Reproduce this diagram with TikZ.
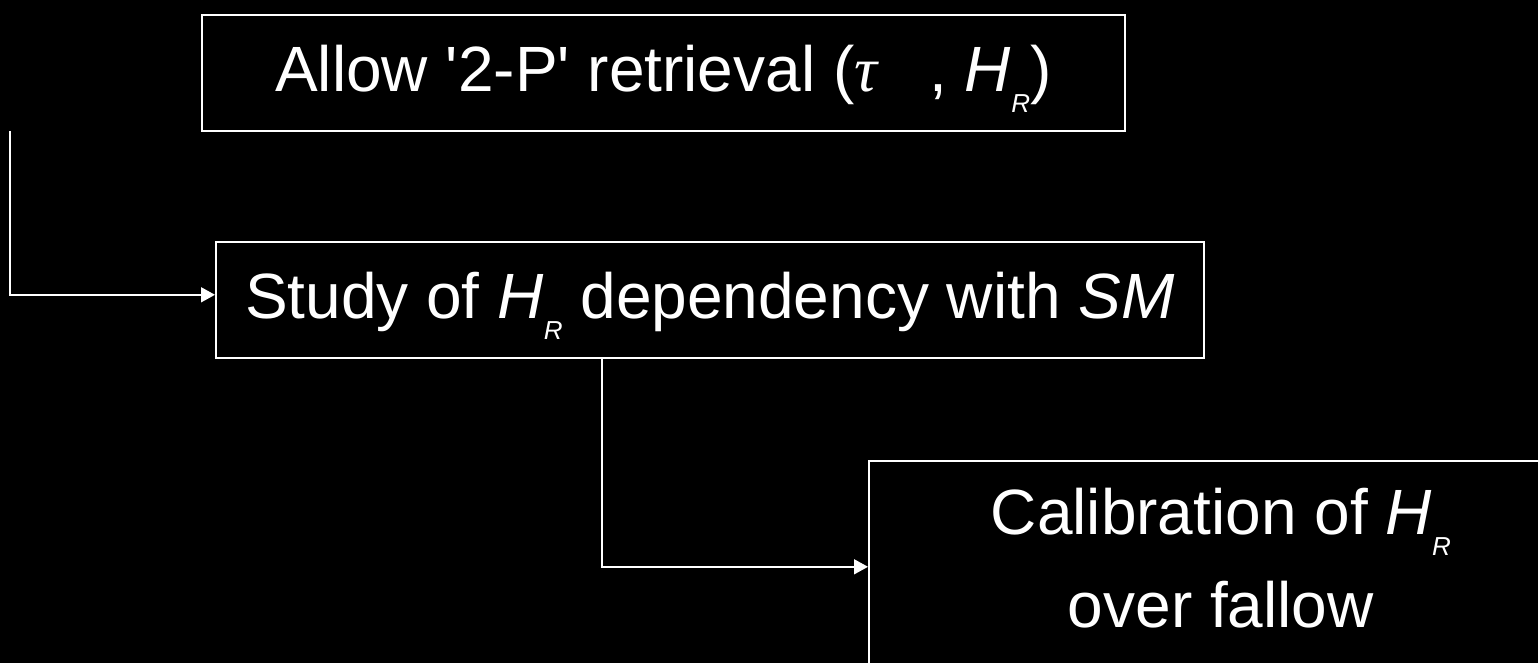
\documentclass[tikz,border=0pt]{standalone}
\usepackage{fontspec}
\setmainfont{Liberation Sans}
\newfontfamily\greekserif{Liberation Serif}
\usetikzlibrary{arrows.meta}
\newcommand\hrsub[1]{\raisebox{-21pt}{\fontsize{26}{26}\selectfont\itshape #1}}
\begin{document}
\begin{tikzpicture}[x=1pt,y=-1pt,
  boxbase/.style={draw=white, line width=1.6pt, inner sep=0pt, anchor=north west,
    text=white, font=\fontsize{64}{93}\selectfont},
  box/.style={boxbase, text height=46pt, text depth=9pt},
  conn/.style={draw=white, line width=1.6pt, -{Triangle[length=14pt,width=15pt]}},
]
\clip (0,0) rectangle (1538,663);
\fill[black] (0,0) rectangle (1538,663);
\node[box, minimum width=923pt, minimum height=116pt] (b1) at (201,14)
  {Allow \textquotesingle 2-P\textquotesingle\ retrieval ({\greekserif\itshape τ}\hspace{52pt}, \textit{H}\hrsub{R})};
\node[box, minimum width=988pt, minimum height=116pt] (b2) at (215,241)
  {Study of \textit{H}\hrsub{R} dependency with \textit{SM}};
\node[boxbase, align=center, text height=140pt, text depth=18pt,
  minimum width=704pt, minimum height=212pt] (b3) at (868,460)
  {Calibration of \textit{H}\hrsub{R}\\over fallow};
\coordinate (s1) at (10,131);
\draw[conn] (s1) |- ([yshift=5pt]b2.west);
\coordinate (s2) at ([xshift=387pt]b2.south west);
\draw[conn] (s2) |- (b3.west);
\end{tikzpicture}
\end{document}
